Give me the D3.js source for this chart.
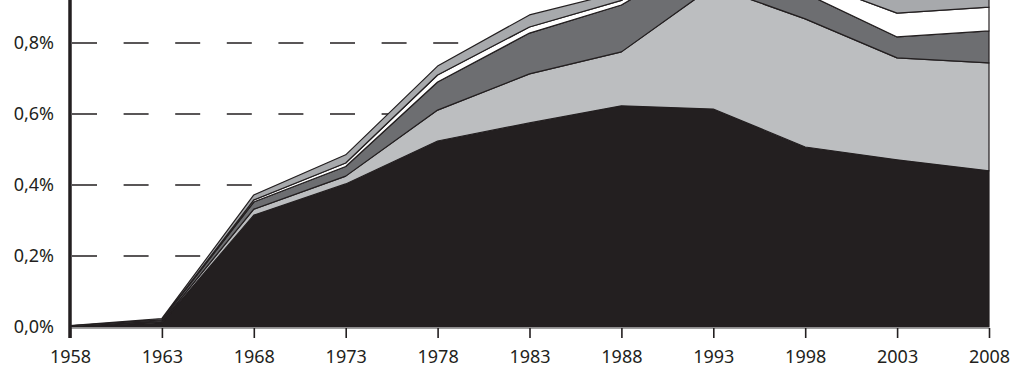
<!DOCTYPE html>
<html>
<head>
<meta charset="utf-8">
<script src="https://cdn.jsdelivr.net/npm/d3@7"></script>
<style>
  body { margin: 0; background: #fff; }
  text { font-family: "Noto Sans", sans-serif; fill: #231f20; }
</style>
</head>
<body>
<div id="chart"></div>
<script>
// years on the x axis
var years = [1958, 1963, 1968, 1973, 1978, 1983, 1988, 1993, 1998, 2003, 2008]
// layer thickness in %, bottom to top
var layerBlack     = [0.002, 0.012, 0.315, 0.403, 0.524, 0.575, 0.623, 0.614, 0.507, 0.471, 0.440]
var layerLightGray = [0.000, 0.003, 0.017, 0.022, 0.087, 0.138, 0.152, 0.346, 0.361, 0.287, 0.304]
var layerDarkGray  = [0.001, 0.004, 0.020, 0.027, 0.079, 0.115, 0.132, 0.100, 0.072, 0.059, 0.090]
var layerWhite     = [0.000, 0.001, 0.006, 0.010, 0.020, 0.017, 0.013, 0.020, 0.040, 0.067, 0.067]
var layerGray      = [0.001, 0.004, 0.014, 0.023, 0.025, 0.034, 0.024, 0.030, 0.040, 0.050, 0.050]
var yTicks = [0, 0.2, 0.4, 0.6, 0.8]

var keys = ['black', 'lightgray', 'darkgray', 'white', 'gray']
var colors = { black: '#231f20', lightgray: '#bcbec0', darkgray: '#6d6e71', white: '#ffffff', gray: '#a7a9ac' }

var rows = years.map(function (y, i) {
  return { year: y, black: layerBlack[i], lightgray: layerLightGray[i],
           darkgray: layerDarkGray[i], white: layerWhite[i], gray: layerGray[i] }
})

var W = 1024, H = 385
var svg = d3.select('#chart').append('svg')
    .attr('width', W)
    .attr('height', H)

var xScale = d3.scaleLinear().domain([1958, 2008]).range([70, 989])
var yScale = d3.scaleLinear().domain([0, 0.8]).range([327, 43])

// dashed gridlines (behind the areas)
svg.append('g').selectAll('line')
    .data(yTicks.slice(1))
    .enter()
  .append('line')
    .attr('x1', 72)
    .attr('x2', 989)
    .attr('y1', function (d) { return yScale(d) })
    .attr('y2', function (d) { return yScale(d) })
    .attr('stroke', '#231f20')
    .attr('stroke-width', 1.4)
    .attr('stroke-dasharray', '25,26.6')

// stacked areas
var stack = d3.stack().keys(keys)
var series = stack(rows)
var area = d3.area()
    .x(function (d) { return xScale(d.data.year) })
    .y0(function (d) { return yScale(d[0]) })
    .y1(function (d) { return yScale(d[1]) })

svg.append('g').selectAll('path')
    .data(series)
    .enter()
  .append('path')
    .attr('d', area)
    .attr('fill', function (d) { return colors[d.key] })
    .attr('stroke', '#231f20')
    .attr('stroke-width', 1.2)
    .attr('stroke-linejoin', 'round')

// x axis
var xAxis = d3.axisBottom(xScale)
    .tickValues(years)
    .tickFormat(d3.format('d'))
    .tickSize(10)
    .tickSizeOuter(0)
var gx = svg.append('g')
    .attr('transform', 'translate(0,328)')
    .call(xAxis)
gx.attr('font-size', null).attr('font-family', null)
gx.select('.domain').attr('stroke', '#a0a0a0').attr('stroke-width', 1.2)
gx.selectAll('.tick line').attr('stroke', '#231f20').attr('stroke-width', 1.6)
gx.selectAll('.tick text')
    .attr('y', 20)
    .attr('dy', 0)
    .attr('font-size', 18)
    .style('font-size', '18px')
    .attr('fill', '#231f20')
    .attr('dominant-baseline', 'hanging')

// y axis line
svg.append('line')
    .attr('x1', 70).attr('x2', 70)
    .attr('y1', 0).attr('y2', 338)
    .attr('stroke', '#231f20')
    .attr('stroke-width', 3.5)

// y labels
svg.append('g').selectAll('text')
    .data(yTicks)
    .enter()
  .append('text')
    .attr('x', 54)
    .attr('y', function (d) { return yScale(d) })
    .attr('dy', '0.35em')
    .style('text-anchor', 'end')
    .style('font-size', '18px')
    .text(function (d) { return d.toFixed(1).replace('.', ',') + '%' })
</script>
</body>
</html>
